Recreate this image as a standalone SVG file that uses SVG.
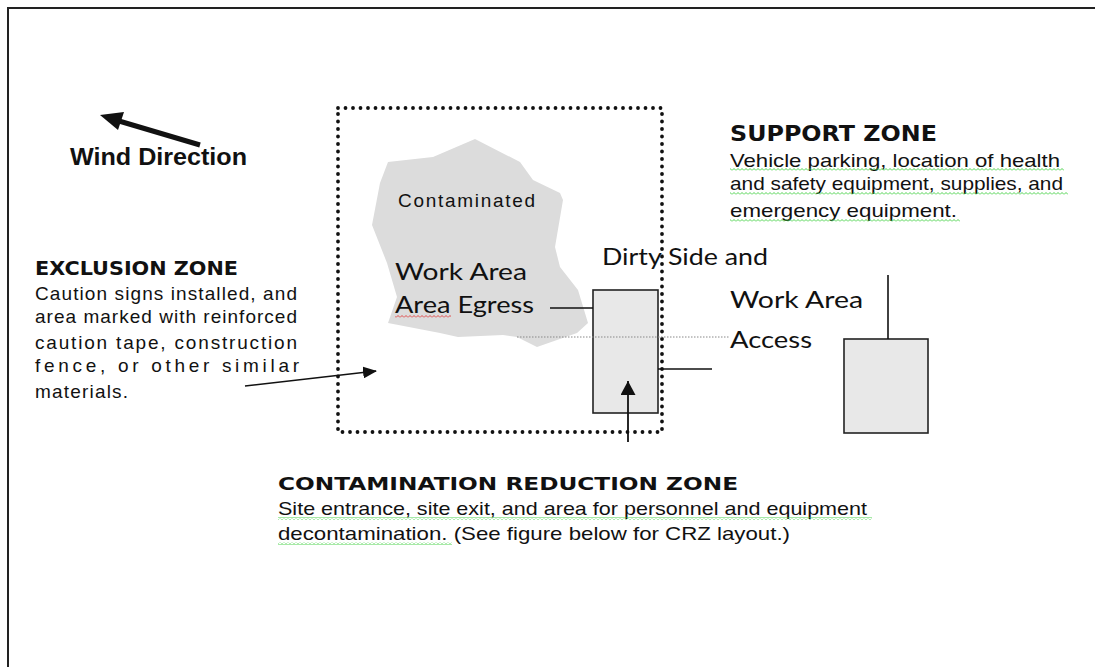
<svg xmlns="http://www.w3.org/2000/svg" width="1095" height="667" viewBox="0 0 1095 667">
<defs>
<style>
.ar{font-family:"Liberation Sans",Arial,sans-serif;fill:#111}
.gs{font-family:Lato,"Open Sans",sans-serif;font-size:24px;fill:#111}
.hd{font-family:"DejaVu Sans","Liberation Sans",sans-serif;font-weight:bold;fill:#111}
.box{fill:#e8e8e8;stroke:#222;stroke-width:1.6}
.ln{stroke:#111;stroke-width:1.6;fill:none}
</style>
<pattern id="wg" width="4" height="3" patternUnits="userSpaceOnUse"><path d="M0,2.5 L2,0.5 L4,2.5" stroke="#3ccf3c" stroke-width="0.9" fill="none"/></pattern>
<pattern id="wr" width="4" height="3" patternUnits="userSpaceOnUse"><path d="M0,2.5 L2,0.5 L4,2.5" stroke="#e03a3a" stroke-width="0.9" fill="none"/></pattern>
<marker id="ah" markerWidth="14" markerHeight="12" refX="13" refY="6" orient="auto" markerUnits="userSpaceOnUse"><path d="M0,0 L14,6 L0,12 Z" fill="#111"/></marker>
<marker id="ahu" markerWidth="16" markerHeight="15" refX="14" refY="7.5" orient="auto" markerUnits="userSpaceOnUse"><path d="M0,0 L14,7.5 L0,15 Z" fill="#111"/></marker>
</defs>
<rect width="1095" height="667" fill="#fff"/>
<path d="M8,667 V8 H1095" fill="none" stroke="#222" stroke-width="2"/>

<g id="wind">
<line x1="200" y1="145" x2="119" y2="121" stroke="#111" stroke-width="5"/>
<polygon points="100,115 124,112 118,130" fill="#111"/>
<text class="ar" x="70" y="165" font-size="24" font-weight="bold" textLength="177" lengthAdjust="spacingAndGlyphs">Wind Direction</text>
</g>

<g id="contaminated-area">
<polygon points="388,162 433,157 475,139 520,162 533,180 560,193 563,200 555,247 560,267 578,290 588,323 577,333 537,347 517,337 503,335 458,337 440,333 388,323 397,297 387,263 372,225 380,183" fill="#dcdcdc"/>
<text class="ar" x="398" y="207" font-size="19" textLength="137" lengthAdjust="spacing">Contaminated</text>
<text class="gs" x="395" y="280" textLength="132" lengthAdjust="spacingAndGlyphs">Work Area</text>
<text class="gs" x="395" y="313" textLength="139" lengthAdjust="spacingAndGlyphs">Area Egress</text>
<rect x="395" y="315" width="56" height="3" fill="url(#wr)"/>
</g>

<g id="exclusion-zone-text">
<text class="hd" x="35" y="275" font-size="19" textLength="203" lengthAdjust="spacingAndGlyphs">EXCLUSION ZONE</text>
<text class="ar" font-size="19">
<tspan x="35" y="300" textLength="262" lengthAdjust="spacing">Caution signs installed, and</tspan>
<tspan x="35" y="323" textLength="262" lengthAdjust="spacing">area marked with reinforced</tspan>
<tspan x="35" y="349" textLength="262" lengthAdjust="spacing">caution tape, construction</tspan>
<tspan x="35" y="372" textLength="264" lengthAdjust="spacing">fence, or other similar</tspan>
<tspan x="35" y="398" textLength="93" lengthAdjust="spacing">materials.</tspan>
</text>
</g>

<g id="crz-box">
<rect class="box" x="593" y="290" width="65" height="123"/>
</g>

<g id="support-box">
<rect class="box" x="844" y="339" width="84" height="94"/>
</g>

<g id="dirty-side-text">
<text class="gs" x="602" y="265" textLength="166" lengthAdjust="spacingAndGlyphs">Dirty Side and</text>
<text class="gs" x="730" y="308" textLength="133" lengthAdjust="spacingAndGlyphs">Work Area</text>
<text class="gs" x="730" y="348" textLength="82" lengthAdjust="spacingAndGlyphs">Access</text>
</g>

<g id="exclusion-boundary">
<rect x="338" y="108" width="324" height="324" fill="none" stroke="#111" stroke-width="3.8" stroke-linecap="round" stroke-dasharray="0 7.5"/>
</g>

<g id="support-zone-text">
<text class="hd" x="730" y="141" font-size="21" textLength="207" lengthAdjust="spacingAndGlyphs">SUPPORT ZONE</text>
<text class="ar" font-size="18.5">
<tspan x="730" y="167" textLength="330" lengthAdjust="spacingAndGlyphs">Vehicle parking, location of health</tspan>
<tspan x="730" y="190" textLength="333" lengthAdjust="spacingAndGlyphs">and safety equipment, supplies, and</tspan>
<tspan x="730" y="217" textLength="227" lengthAdjust="spacingAndGlyphs">emergency equipment.</tspan>
</text>
<rect x="730" y="168" width="334" height="3" fill="url(#wg)"/>
<rect x="730" y="192" width="338" height="3" fill="url(#wg)"/>
<rect x="730" y="219" width="230" height="3" fill="url(#wg)"/>
</g>

<g id="crz-text">
<text class="hd" x="278" y="490" font-size="18" textLength="460" lengthAdjust="spacingAndGlyphs">CONTAMINATION REDUCTION ZONE</text>
<text class="ar" font-size="19">
<tspan x="278" y="515" textLength="589" lengthAdjust="spacingAndGlyphs">Site entrance, site exit, and area for personnel and equipment</tspan>
<tspan x="278" y="540" textLength="512" lengthAdjust="spacingAndGlyphs">decontamination. (See figure below for CRZ layout.)</tspan>
</text>
<rect x="278" y="517" width="594" height="3" fill="url(#wg)"/>
<rect x="278" y="542" width="174" height="3" fill="url(#wg)"/>
</g>

<g id="connectors">
<line x1="245" y1="386" x2="376" y2="371" stroke="#111" stroke-width="1.6" marker-end="url(#ah)"/>
<line x1="628" y1="442" x2="628" y2="381" stroke="#111" stroke-width="1.8" marker-end="url(#ahu)"/>
<line class="ln" x1="550" y1="308" x2="593" y2="308"/>
<line class="ln" x1="658" y1="369" x2="712" y2="369"/>
<line class="ln" x1="888" y1="275" x2="888" y2="339"/>
<line x1="517" y1="337" x2="730" y2="337" stroke="#888" stroke-width="1" stroke-dasharray="1.5 1.5"/>
</g>
</svg>
